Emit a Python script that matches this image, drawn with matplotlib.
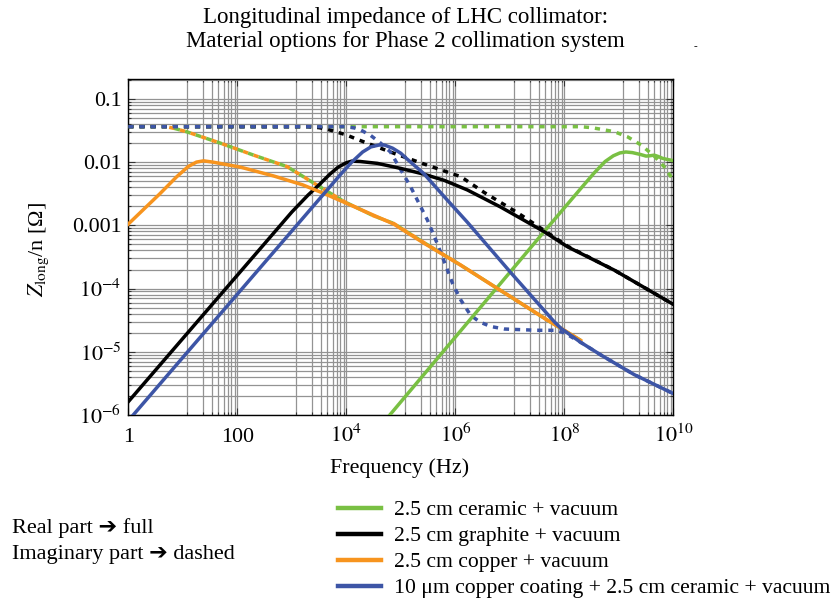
import numpy as np
import matplotlib
matplotlib.use("Agg")
import matplotlib.pyplot as plt
from matplotlib.ticker import FixedLocator, LogLocator, NullFormatter

plt.rcParams['font.family'] = ['Liberation Serif', 'DejaVu Sans']
plt.rcParams['mathtext.fontset'] = 'stix'

# ---- data (log10 of frequency in Hz, log10 of |Z/n| in Ohm) ----
green_re_lf = [4.70, 7.63, 8.30, 8.55, 8.75, 8.90, 9.02, 9.13, 9.25, 9.40, 9.50, 9.57, 9.65, 9.72, 9.80, 9.90, 10.02]
green_re_lz = [-6.10, -3.10, -2.42, -2.17, -1.99, -1.90, -1.855, -1.84, -1.85, -1.88, -1.905, -1.90, -1.89, -1.91, -1.94, -1.96, -1.98]
green_im_lf = [0.0, 8.30, 8.50, 8.67, 8.92, 9.16, 9.41, 9.65, 9.83, 10.02]
green_im_lz = [-1.44, -1.44, -1.455, -1.48, -1.52, -1.60, -1.73, -1.905, -2.07, -2.31]

black_re_lf = [0.0, 3.00, 3.30, 3.50, 3.70, 3.85, 4.00, 4.10, 4.25, 4.57, 5.00, 5.42, 5.80, 6.22, 6.83, 7.63, 8.06, 8.92, 10.02]
black_re_lz = [-5.79, -2.79, -2.52, -2.36, -2.19, -2.08, -2.01, -1.985, -1.99, -2.02, -2.10, -2.19, -2.29, -2.44, -2.71, -3.10, -3.34, -3.71, -4.26]
black_im_lf = [0.0, 3.30, 3.50, 3.65, 4.00, 4.26, 4.87, 5.49, 6.10, 6.53, 7.14, 7.63, 8.06, 8.92, 10.02]
black_im_lz = [-1.44, -1.44, -1.455, -1.48, -1.57, -1.66, -1.86, -2.05, -2.23, -2.48, -2.80, -3.08, -3.33, -3.71, -4.26]

orange_re_lf = [0.0, 0.58, 0.89, 1.10, 1.25, 1.38, 1.55, 2.06, 2.67, 3.20, 3.60, 4.00, 4.87, 5.42, 6.10, 6.83, 7.00, 7.69, 8.00, 8.30]
orange_re_lz = [-2.98, -2.50, -2.23, -2.07, -2.00, -1.98, -2.00, -2.08, -2.22, -2.36, -2.50, -2.65, -2.98, -3.28, -3.63, -4.03, -4.12, -4.50, -4.66, -4.82]
orange_im_lf = [0.75, 0.86, 1.07, 1.69, 2.30, 2.91, 3.40, 3.95, 4.50, 4.87, 5.42, 6.10, 6.83, 7.69, 8.30]
orange_im_lz = [-1.45, -1.47, -1.52, -1.70, -1.89, -2.07, -2.33, -2.62, -2.85, -2.97, -3.27, -3.63, -4.03, -4.50, -4.82]

blue_re_lf = [0.0, 3.00, 3.50, 3.90, 4.10, 4.30, 4.45, 4.60, 4.70, 4.85, 5.00, 5.10, 5.42, 5.80, 6.22, 6.60, 7.02, 7.44, 7.81, 7.94, 8.30, 8.67, 9.28, 10.02]
blue_re_lz = [-6.09, -3.09, -2.59, -2.19, -2.00, -1.84, -1.76, -1.73, -1.73, -1.78, -1.86, -1.94, -2.18, -2.55, -2.95, -3.33, -3.75, -4.16, -4.52, -4.63, -4.85, -5.05, -5.36, -5.67]
blue_im_lf = [0.0, 4.00, 4.15, 4.26, 4.45, 4.63, 4.81, 4.87, 5.18, 5.49, 5.65, 5.80, 5.95, 6.10, 6.28, 6.45, 6.65, 6.90, 7.50, 7.85, 8.00, 8.30, 8.67, 9.28, 10.02]
blue_im_lz = [-1.44, -1.44, -1.46, -1.49, -1.58, -1.70, -1.84, -1.93, -2.39, -2.92, -3.25, -3.58, -3.92, -4.18, -4.42, -4.53, -4.60, -4.64, -4.66, -4.66, -4.70, -4.85, -5.05, -5.36, -5.67]

labels = ["2.5 cm ceramic + vacuum",
          "2.5 cm graphite + vacuum",
          "2.5 cm copper + vacuum",
          "10 \u03bcm copper coating + 2.5 cm ceramic + vacuum"]
colors = ['#79c043', '#000000', '#f7941e', '#3d55a6']

x_major = [1, 1e2, 1e4, 1e6, 1e8, 1e10]
x_major_labels = ['1', '100', r'$10^{4}$', r'$10^{6}$', r'$10^{8}$', r'$10^{10}$']
y_major = [1e-6, 1e-5, 1e-4, 1e-3, 1e-2, 1e-1]
y_major_labels = [r'$10^{-6}$', r'$10^{-5}$', r'$10^{-4}$', '0.001', '0.01', '0.1']

def v(a):
    return 10.0 ** np.asarray(a)

FS = 15.8

fig = plt.figure(figsize=(8.39, 5.99), dpi=100)
ax = fig.add_axes([128.3 / 839, 1 - 415 / 599, 545 / 839, 335.7 / 599])
ax.set_xscale('log')
ax.set_yscale('log')

lw = 2.5
dash = (0, (1.5, 1.7))
# imaginary parts (dashed)
ax.plot(v(green_im_lf), v(green_im_lz), color=colors[0], lw=lw, ls=dash, zorder=3)
ax.plot(v(black_im_lf), v(black_im_lz), color=colors[1], lw=lw, ls=dash, zorder=3)
ax.plot(v(orange_im_lf), v(orange_im_lz), color=colors[2], lw=lw, ls=dash,
        gapcolor=colors[0], zorder=3)
ax.plot(v(blue_im_lf), v(blue_im_lz), color=colors[3], lw=lw, ls=dash, zorder=3.5)
# real parts (full)
h0, = ax.plot(v(green_re_lf), v(green_re_lz), color=colors[0], lw=lw, zorder=4)
h1, = ax.plot(v(black_re_lf), v(black_re_lz), color=colors[1], lw=lw, zorder=4)
h2, = ax.plot(v(orange_re_lf), v(orange_re_lz), color=colors[2], lw=lw, zorder=4)
h3, = ax.plot(v(blue_re_lf), v(blue_re_lz), color=colors[3], lw=lw, zorder=4.5)

# ticks and grid
x_minor = []
for m in range(5):
    base = 10.0 ** (2 * m)
    x_minor += [base * (1 + 11 * k) for k in range(1, 9)]
ax.set_xticks(x_major, labels=x_major_labels)
ax.xaxis.set_minor_locator(FixedLocator(x_minor))
ax.xaxis.set_minor_formatter(NullFormatter())
ax.set_yticks(y_major, labels=y_major_labels)
ax.yaxis.set_minor_locator(LogLocator(base=10, subs=np.arange(2, 10)))
ax.yaxis.set_minor_formatter(NullFormatter())
ax.set_ylim(1e-6, 0.204)
ax.set_xlim(1, 1e10)

ax.tick_params(which='both', direction='in', top=True, right=True, width=0.8, color='#333333')
ax.tick_params(which='major', length=5)
ax.tick_params(which='minor', length=2.5)
ax.tick_params(axis='x', which='major', labelsize=FS, pad=19.5)
ax.tick_params(axis='y', which='major', labelsize=FS, pad=5.0)
for t in ax.xaxis.get_major_ticks():
    t.label1.set_verticalalignment('baseline')
ax.grid(True, which='both', color='#939393', lw=0.9)
ax.set_axisbelow(True)
for s in ax.spines.values():
    s.set_color('black')
    s.set_linewidth(1.0)

ax.set_xlabel('Frequency (Hz)', fontsize=FS)
ax.xaxis.set_label_coords(0.4985, -0.128)
ax.set_ylabel(r'$Z_{\mathrm{long}}$/n [' + '\u03a9' + ']', fontsize=FS)
ax.yaxis.set_label_coords(-0.142, 0.493)

# title
fig.text(405.5 / 839, 1 - 17 / 599, 'Longitudinal impedance of LHC collimator:',
         ha='center', va='center', fontsize=16.5)
fig.text(405.5 / 839, 1 - 42 / 599, 'Material options for Phase 2 collimation system',
         ha='center', va='center', fontsize=16.5)
fig.text(695 / 839, 1 - 47 / 599, '-', ha='center', va='center', fontsize=8)

# legend
leg = fig.legend(handles=[h0, h1, h2, h3], labels=labels, loc='upper left',
                 bbox_to_anchor=(338 / 839, 1 - 500 / 599), frameon=False, borderpad=0,
                 borderaxespad=0, handlelength=2.0, handletextpad=0.6, labelspacing=0.27,
                 fontsize=15.6)
for ln in leg.get_lines():
    ln.set_linewidth(3.2)

fig.text(12 / 839, 1 - 528 / 599, 'Real part \u2794 full', ha='left', va='center', fontsize=16)
fig.text(12 / 839, 1 - 554 / 599, 'Imaginary part \u2794 dashed', ha='left', va='center', fontsize=16)

fig.savefig('out.png', dpi=100)
